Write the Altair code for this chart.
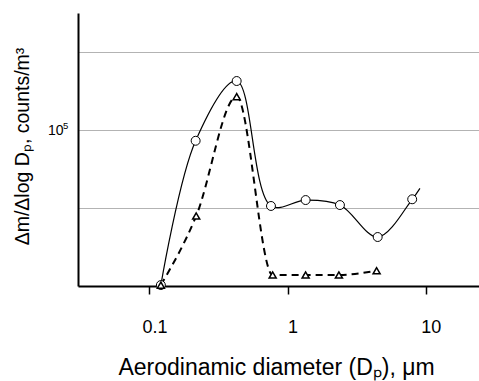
import altair as alt
import pandas as pd

# Data (x in µm, y in counts/m3 on a linear scale)
circle_x = [0.121, 0.216, 0.428, 0.758, 1.351, 2.393, 4.49, 7.98]
circle_y = [600, 93100, 131400, 51300, 55100, 51900, 31400, 55600]
tail_x = [9.08]
tail_y = [62600]
tri_x = [0.121, 0.218, 0.428, 0.78, 1.351, 2.353, 4.41]
tri_y = [600, 44900, 121400, 7050, 7050, 7050, 9800]

x_ticks = [0.1, 1, 10]
y_grid = [50000, 100000, 150000]
y_exp_text = ["5"]

circ = pd.DataFrame({"x": circle_x, "y": circle_y})
solid = pd.DataFrame({"x": circle_x + tail_x, "y": circle_y + tail_y})
tri = pd.DataFrame({"x": tri_x, "y": tri_y})
exp_df = pd.DataFrame({"t": y_exp_text})

FONT = "Liberation Sans"

xs = alt.Scale(type="log", domain=[0.0304, 24.3], nice=False, zero=False)
ys = alt.Scale(domain=[0, 175000], nice=False, zero=False)

x_enc = alt.X(
    "x:Q",
    scale=xs,
    axis=alt.Axis(
        values=x_ticks,
        format="~g",
        grid=False,
        domainColor="black",
        domainWidth=2,
        ticks=True,
        tickSize=8,
        tickWidth=1.5,
        tickColor="black",
        labelFont=FONT,
        labelFontSize=18,
        labelColor="black",
        labelPadding=24,
        labelOffset=5,
        title="Aerodinamic diameter (Dₚ), μm",
        titleFont=FONT,
        titleFontSize=23,
        titleFontWeight="normal",
        titleColor="black",
        titleAlign="center",
        titleBaseline="alphabetic",
        titleX=198,
        titleY=88,
    ),
)

y_enc = alt.Y(
    "y:Q",
    scale=ys,
    axis=alt.Axis(
        values=y_grid,
        grid=True,
        gridColor="#b3b3b3",
        gridWidth=1,
        ticks=False,
        domainColor="black",
        domainWidth=2,
        labelExpr="datum.value == 100000 ? '10' : ''",
        labelFont=FONT,
        labelFontSize=14,
        labelColor="black",
        labelPadding=15,
        title="Δm/Δlog Dₚ, counts/m³",
        titleFont=FONT,
        titleFontSize=19.5,
        titleFontWeight="normal",
        titleColor="black",
        titleAngle=-90,
        titleAlign="center",
        titleBaseline="middle",
        titleX=-56,
        titleY=133,
    ),
)

solid_line = alt.Chart(solid).mark_line(
    interpolate="catmull-rom", color="black", strokeWidth=1.2
).encode(x=x_enc, y=y_enc)

dashed_line = alt.Chart(tri).mark_line(
    interpolate="monotone", color="black", strokeWidth=2, strokeDash=[7, 5]
).encode(x=x_enc, y=y_enc)

circles = alt.Chart(circ).mark_point(
    shape="circle", size=80, filled=False, fill="white", fillOpacity=1,
    stroke="black", strokeWidth=1, opacity=1
).encode(x=x_enc, y=y_enc)

triangles = alt.Chart(tri).mark_point(
    shape="triangle-up", size=50, filled=False, fill="white", fillOpacity=1,
    stroke="black", strokeWidth=1.5, opacity=1
).encode(x=x_enc, y=y_enc)

exponent = alt.Chart(exp_df).mark_text(
    font=FONT, fontSize=9.5, color="black", align="left", baseline="middle"
).encode(x=alt.value(-15), y=alt.value(113), text="t:N")

chart = (
    alt.layer(solid_line, dashed_line, circles, triangles, exponent)
    .properties(
        width=401,
        height=273,
        autosize=alt.AutoSizeParams(type="none"),
        padding={"left": 78, "top": 13, "right": 0, "bottom": 95},
        background="white",
    )
    .configure_view(stroke=None)
)

chart.save("out.html", embed_options={"renderer": "svg", "actions": False})
